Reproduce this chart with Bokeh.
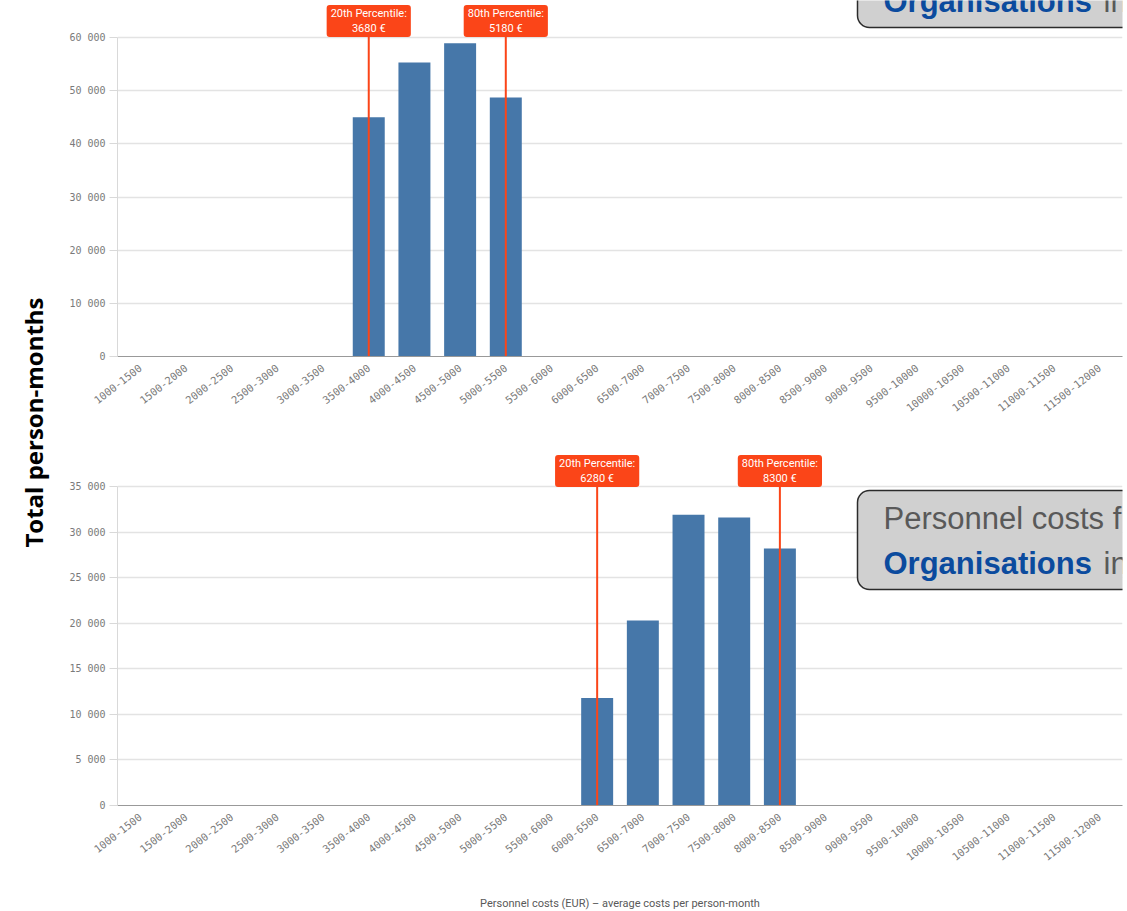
from bokeh.plotting import figure
from bokeh.models import Label, FactorRange, Range1d, FixedTicker, BoxAnnotation
from bokeh.layouts import row, column
from bokeh.embed import file_html
from bokeh.resources import INLINE
import math

# ---------------- data ----------------
bins = ["1000-1500", "1500-2000", "2000-2500", "2500-3000", "3000-3500",
        "3500-4000", "4000-4500", "4500-5000", "5000-5500", "5500-6000",
        "6000-6500", "6500-7000", "7000-7500", "7500-8000", "8000-8500",
        "8500-9000", "9000-9500", "9500-10000", "10000-10500", "10500-11000",
        "11000-11500", "11500-12000"]

top_values = [0, 0, 0, 0, 0, 45000, 55300, 58900, 48700, 0,
              0, 0, 0, 0, 0, 0, 0, 0, 0, 0, 0, 0]
bottom_values = [0, 0, 0, 0, 0, 0, 0, 0, 0, 0,
                 11800, 20300, 31900, 31600, 28200, 0, 0, 0, 0, 0, 0, 0]

top_y_ticks = [0, 10000, 20000, 30000, 40000, 50000, 60000]
top_y_labels = ["0", "10 000", "20 000", "30 000", "40 000", "50 000", "60 000"]
bottom_y_ticks = [0, 5000, 10000, 15000, 20000, 25000, 30000, 35000]
bottom_y_labels = ["0", "5 000", "10 000", "15 000", "20 000", "25 000", "30 000", "35 000"]

top_pct_bins = ["3500-4000", "5000-5500"]
top_pct_texts = ["20th Percentile:\n3680 €", "80th Percentile:\n5180 €"]
bottom_pct_bins = ["6000-6500", "8000-8500"]
bottom_pct_texts = ["20th Percentile:\n6280 €", "80th Percentile:\n8300 €"]

y_title = "Total person-months"
x_title = "Personnel costs (EUR) \u2013 average costs per person-month"
callout_line1 = "Personnel costs f"
callout_bold = "Organisations"
callout_tail = "in"

# ---------------- layout constants (page pixels) ----------------
LEFT_W = 50
FRAME_LEFT = 117
FRAME_W = 1005
RIGHT_BORDER = 5
AXIS_H = 319          # pixel height from 0 to the top tick
BAND = FRAME_W / len(bins)

BAR_COLOR = "#4677a9"
PCT_COLOR = "#fb4518"
TICK_FONT = "DejaVu Sans Mono"


def x_at(page_x):
    return (page_x - FRAME_LEFT) / BAND


class Chart:
    def __init__(self, values, yticks, ylabels, ymax, pct_bins, pct_texts,
                 fig_top, zero_page, fig_bottom_border, pct_box_mid, pct_box_bottom):
        self.ymax = ymax
        self.zero_page = zero_page
        frame_h = zero_page - fig_top
        yend = ymax * frame_h / AXIS_H
        p = figure(x_range=FactorRange(factors=bins), y_range=Range1d(0, yend),
                   frame_width=FRAME_W, frame_height=frame_h,
                   min_border_left=FRAME_LEFT - LEFT_W, min_border_right=RIGHT_BORDER,
                   min_border_top=0, min_border_bottom=fig_bottom_border,
                   toolbar_location=None, output_backend="svg")
        self.p = p
        p.outline_line_color = None
        p.background_fill_color = "white"
        p.border_fill_color = "white"
        p.xgrid.visible = False
        p.ygrid.grid_line_color = "#e3e3e3"
        p.ygrid.grid_line_width = 1.3

        yax = p.yaxis[0]
        yax.ticker = FixedTicker(ticks=yticks)
        yax.bounds = (0, ymax)
        yax.major_label_overrides = {t: l for t, l in zip(yticks, ylabels)}
        yax.axis_line_color = "#d9d9d9"
        yax.major_tick_line_color = "#d9d9d9"
        yax.major_tick_out = 8
        yax.major_tick_in = 0
        yax.minor_tick_line_color = None
        yax.major_label_text_font = TICK_FONT
        yax.major_label_text_font_size = "10px"
        yax.major_label_text_color = "#7a7a7a"
        yax.major_label_standoff = 4

        xax = p.xaxis[0]
        xax.axis_line_color = "#999999"
        xax.major_tick_line_color = None
        xax.minor_tick_line_color = None
        xax.major_label_orientation = 0.66
        xax.major_label_text_font = TICK_FONT
        xax.major_label_text_font_size = "10.5px"
        xax.major_label_text_color = "#7a7a7a"
        xax.major_label_standoff = 4

        p.vbar(x=bins, top=values, width=0.7, fill_color=BAR_COLOR, line_color=None)

        ytop = self.y_at(pct_box_bottom)
        p.segment(x0=pct_bins, y0=[0] * len(pct_bins), x1=pct_bins, y1=[ytop] * len(pct_bins),
                  line_color=PCT_COLOR, line_width=2)

        ly = self.y_at(pct_box_mid)
        for b, t in zip(pct_bins, pct_texts):
            p.add_layout(Label(x=bins.index(b) + 0.5, y=ly, text=t,
                               text_align="center", text_baseline="middle",
                               text_color="white", text_font="Roboto",
                               text_font_size="11px", text_line_height=1.15,
                               background_fill_color=PCT_COLOR,
                               border_radius=3,
                               padding=dict(left=4, right=4, top=2, bottom=2)))

    def y_at(self, page_y):
        return self.ymax * (self.zero_page - page_y) / AXIS_H

    def callout(self, box_top, box_bottom, line1_mid, line2_mid):
        p = self.p
        p.add_layout(BoxAnnotation(left=x_at(857), right=x_at(1200),
                                   top=self.y_at(box_top), bottom=self.y_at(box_bottom),
                                   fill_color="#d0d0d0", fill_alpha=1.0,
                                   line_color="#2b2b2b", line_width=1.5, line_alpha=1.0,
                                   border_radius=12))
        common = dict(text_align="left", text_baseline="middle",
                      text_font="Liberation Sans", text_font_size="31px")
        p.add_layout(Label(x=x_at(883), y=self.y_at(line1_mid), text=callout_line1,
                           text_color="#595959", **common))
        p.add_layout(Label(x=x_at(883), y=self.y_at(line2_mid), text=callout_bold,
                           text_font_style="bold", text_color="#0b4b9e", **common))
        p.add_layout(Label(x=x_at(1103), y=self.y_at(line2_mid), text=callout_tail,
                           text_color="#595959", **common))


# top chart: figure spans page y 0..440, zero line at 356
top = Chart(top_values, top_y_ticks, top_y_labels, 60000,
            top_pct_bins, top_pct_texts, 0, 356, 84, 20.5, 35)
top.callout(-72, 27, -44, 1)

# bottom chart: figure spans page y 440..911, zero line at 805
bottom = Chart(bottom_values, bottom_y_ticks, bottom_y_labels, 35000,
               bottom_pct_bins, bottom_pct_texts, 440, 805, 106, 470.5, 485)
bottom.callout(490, 589, 518, 563)

bx = bottom.p.xaxis[0]
bx.axis_label = x_title
bx.axis_label_text_font = "Roboto"
bx.axis_label_text_font_size = "11px"
bx.axis_label_text_font_style = "normal"
bx.axis_label_text_color = "#595959"
bx.axis_label_standoff = 30

# left strip with the shared y title
H = 911
left = figure(width=LEFT_W, height=H, x_range=Range1d(0, LEFT_W), y_range=Range1d(0, H),
              x_axis_type=None, y_axis_type=None, toolbar_location=None,
              output_backend="svg", min_border=0)
left.outline_line_color = None
left.grid.visible = False
left.add_layout(Label(x=33, y=H - 422, text=y_title, angle=math.pi / 2,
                      text_align="center", text_baseline="middle",
                      text_font="Open Sans", text_font_size="24px",
                      text_font_style="bold", text_color="black"))

layout = row(left, column(top.p, bottom.p, spacing=0), spacing=0)

open("out.html", "w").write(file_html(layout, INLINE))
